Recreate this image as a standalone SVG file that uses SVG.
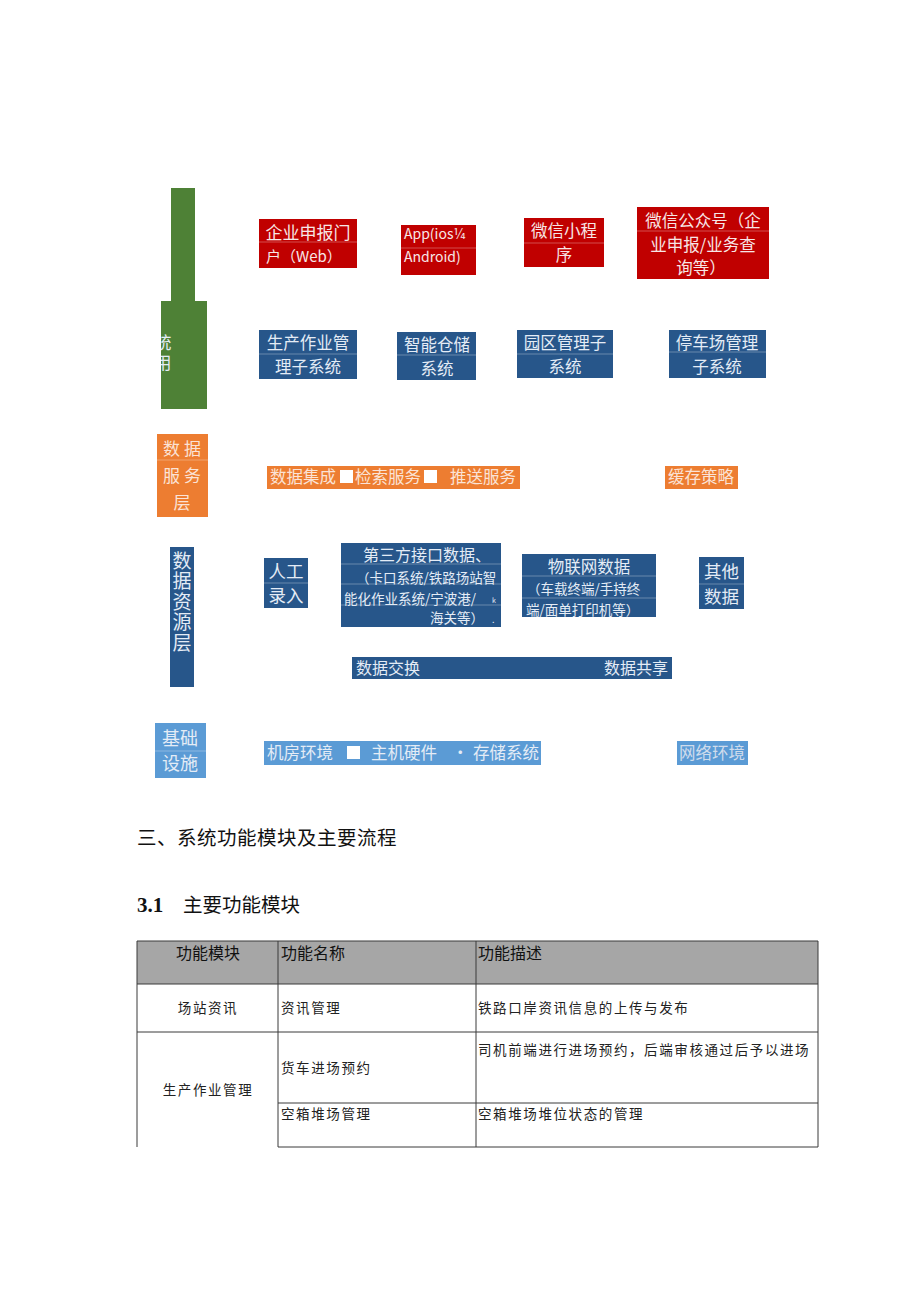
<svg xmlns="http://www.w3.org/2000/svg" width="920" height="1301" viewBox="0 0 920 1301">
<style>
.cjk{font-family:"Noto Sans CJK SC","Noto Sans",sans-serif}
.red{fill:#c00000}
.blue{fill:#27568a}
.org{fill:#ed7d31}
.lb{fill:#5b9bd5}
.grn{fill:#4e8136}
.tr{fill:#f7e6e6}
.tb{fill:#e4ecf6}
.to{fill:#fbe3d6}
.sep{stroke:#ffffff;stroke-opacity:0.3;stroke-width:1}
.c{text-anchor:middle}
.e{text-anchor:end}
.tl{stroke:#3a3a3a;stroke-width:1;fill:none}
.tt{font-family:"Noto Sans CJK SC",sans-serif;font-size:13.5px;fill:#222;letter-spacing:1.6px}
.th{font-family:"Noto Sans CJK SC",sans-serif;font-size:16px;fill:#111}
</style>
<defs>
<clipPath id="gclip"><rect x="161" y="301" width="46" height="108"/></clipPath>
</defs>
<rect width="920" height="1301" fill="#ffffff"/>

<g id="layer-app" class="cjk">
<rect class="grn" x="171" y="188" width="24" height="113"/>
<rect class="grn" x="161" y="301" width="46" height="108"/>
<g clip-path="url(#gclip)">
<text class="tb" x="163" y="334" font-size="17" style="writing-mode:vertical-rl" letter-spacing="3">统用</text>
</g>
</g>

<g id="node-portal" class="cjk">
<rect class="red" x="259" y="219" width="98" height="49"/>
<line class="sep" x1="259" y1="242" x2="357" y2="242"/>
<text class="tr c" x="308" y="239" font-size="17">企业申报门</text>
<text class="tr c" x="304" y="262" font-size="15">户（Web）</text>
</g>

<g id="node-app" class="cjk">
<rect class="red" x="401" y="225" width="75" height="50"/>
<line class="sep" x1="401" y1="248" x2="476" y2="248"/>
<text class="tr" x="404" y="239" font-size="14">App(ios¼</text>
<text class="tr" x="404" y="262" font-size="14">Android)</text>
</g>

<g id="node-miniprogram" class="cjk">
<rect class="red" x="524" y="218" width="80" height="49"/>
<line class="sep" x1="524" y1="243" x2="604" y2="243"/>
<text class="tr c" x="564" y="237" font-size="16.5">微信小程</text>
<text class="tr c" x="564" y="261" font-size="16.5">序</text>
</g>

<g id="node-wechat" class="cjk">
<rect class="red" x="637" y="207" width="132" height="72"/>
<line class="sep" x1="637" y1="231" x2="769" y2="231"/>
<text class="tr c" x="703" y="227" font-size="16.5">微信公众号（企</text>
<text class="tr c" x="703" y="251" font-size="16.5">业申报/业务查</text>
<text class="tr c" x="701" y="274" font-size="16.5">询等）</text>
</g>

<g id="node-production" class="cjk">
<rect class="blue" x="259" y="330" width="98" height="49"/>
<line class="sep" x1="259" y1="354" x2="357" y2="354"/>
<text class="tb c" x="308" y="349" font-size="16.5">生产作业管</text>
<text class="tb c" x="308" y="373" font-size="16.5">理子系统</text>
</g>

<g id="node-warehouse" class="cjk">
<rect class="blue" x="397" y="332" width="79" height="48"/>
<line class="sep" x1="397" y1="355" x2="476" y2="355"/>
<text class="tb c" x="437" y="351" font-size="16.5">智能仓储</text>
<text class="tb c" x="437" y="375" font-size="16.5">系统</text>
</g>

<g id="node-park" class="cjk">
<rect class="blue" x="517" y="330" width="96" height="48"/>
<line class="sep" x1="517" y1="354" x2="613" y2="354"/>
<text class="tb c" x="565" y="349" font-size="16.5">园区管理子</text>
<text class="tb c" x="565" y="373" font-size="16.5">系统</text>
</g>

<g id="node-parking" class="cjk">
<rect class="blue" x="669" y="330" width="97" height="48"/>
<line class="sep" x1="669" y1="352" x2="766" y2="352"/>
<text class="tb c" x="717" y="349" font-size="16.5">停车场管理</text>
<text class="tb c" x="717" y="373" font-size="16.5">子系统</text>
</g>

<g id="layer-dataservice" class="cjk">
<rect class="org" x="157" y="434" width="51" height="83"/>
<line class="sep" x1="157" y1="460" x2="208" y2="460"/>
<text class="to c" x="184" y="455" font-size="17" letter-spacing="4">数据</text>
<text class="to c" x="184" y="482" font-size="17" letter-spacing="4">服务</text>
<text class="to c" x="182" y="509" font-size="17">层</text>
</g>

<g id="node-dataservice-bar" class="cjk">
<rect class="org" x="267" y="466" width="253" height="23"/>
<text class="to" x="270" y="483" font-size="16.5">数据集成</text>
<rect x="340" y="470" width="13" height="13" fill="#ffffff"/>
<text class="to" x="355" y="483" font-size="16.5">检索服务</text>
<rect x="424" y="470" width="13" height="13" fill="#ffffff"/>
<text class="to" x="450" y="483" font-size="16.5">推送服务</text>
</g>

<g id="node-cache" class="cjk">
<rect class="org" x="665" y="466" width="73" height="23"/>
<text class="to" x="668" y="483" font-size="16.5">缓存策略</text>
</g>

<g id="layer-dataresource" class="cjk">
<rect class="blue" x="170" y="547" width="24" height="140"/>
<text class="tb" x="182" y="551" font-size="19" style="writing-mode:vertical-rl" letter-spacing="1.5">数据资源层</text>
</g>

<g id="node-manual" class="cjk">
<rect class="blue" x="264" y="558" width="44" height="50"/>
<line class="sep" x1="264" y1="583" x2="308" y2="583"/>
<text class="tb c" x="286" y="578" font-size="17.5">人工</text>
<text class="tb c" x="286" y="602" font-size="17.5">录入</text>
</g>

<g id="node-thirdparty" class="cjk">
<rect class="blue" x="341" y="543" width="160" height="84"/>
<line class="sep" x1="341" y1="564" x2="501" y2="564"/>
<line class="sep" x1="341" y1="584" x2="501" y2="584"/>
<line class="sep" x1="341" y1="605" x2="501" y2="605"/>
<text class="tb" x="363" y="561" font-size="16">第三方接口数据、</text>
<text class="tb" x="356" y="583" font-size="13.5">（卡口系统/铁路场站智</text>
<text class="tb" x="344" y="604" font-size="13.5">能化作业系统/宁波港/</text>
<text class="tb" x="492" y="603" font-size="7">k</text>
<text class="tb" x="430" y="623" font-size="13.5">海关等）</text>
<text class="tb" x="492" y="623" font-size="9">.</text>
</g>

<g id="node-iot" class="cjk">
<rect class="blue" x="522" y="554" width="134" height="63"/>
<line class="sep" x1="522" y1="576" x2="656" y2="576"/>
<line class="sep" x1="522" y1="598" x2="656" y2="598"/>
<text class="tb c" x="589" y="573" font-size="16.5">物联网数据</text>
<text class="tb" x="527" y="594" font-size="13.5">（车载终端/手持终</text>
<text class="tb" x="526" y="615" font-size="13.5">端/面单打印机等）</text>
</g>

<g id="node-other" class="cjk">
<rect class="blue" x="699" y="557" width="45" height="52"/>
<line class="sep" x1="699" y1="584" x2="744" y2="584"/>
<text class="tb c" x="721.5" y="578" font-size="17.5">其他</text>
<text class="tb c" x="721.5" y="603" font-size="17.5">数据</text>
</g>

<g id="node-exchange" class="cjk">
<rect class="blue" x="352" y="657" width="320" height="22"/>
<text class="tb" x="356" y="674" font-size="16">数据交换</text>
<text class="tb e" x="668" y="674" font-size="16">数据共享</text>
</g>

<g id="layer-infra" class="cjk">
<rect class="lb" x="155" y="723" width="51" height="55"/>
<line class="sep" x1="155" y1="751" x2="206" y2="751"/>
<text class="tb c" x="180" y="745" font-size="18">基础</text>
<text class="tb c" x="180" y="770" font-size="18">设施</text>
</g>

<g id="node-infra-bar" class="cjk">
<rect class="lb" x="264" y="741" width="277" height="24"/>
<text class="tb" x="267" y="759" font-size="16.5">机房环境</text>
<rect x="347" y="746" width="13" height="13" fill="#ffffff"/>
<text class="tb" x="371" y="759" font-size="16.5">主机硬件</text>
<text class="tb" x="452" y="759" font-size="16.5">·</text>
<text class="tb" x="473" y="759" font-size="16.5">存储系统</text>
</g>

<g id="node-network" class="cjk">
<rect class="lb" x="677" y="741" width="71" height="24"/>
<text x="679" y="759" font-size="16.5" fill="#cfdcec">网络环境</text>
</g>

<g id="connectors"/>

<g id="headings">
<text class="cjk" x="137" y="845" font-size="19.5" fill="#111" letter-spacing="0.5">三、系统功能模块及主要流程</text>
<text x="137" y="912" font-family="Liberation Serif,serif" font-weight="bold" font-size="21" fill="#111">3.1</text>
<text class="cjk" x="183" y="912" font-size="19.5" fill="#111">主要功能模块</text>
</g>

<g id="table">
<rect x="137" y="941" width="681" height="43" fill="#a6a6a6"/>
<line class="tl" x1="137" y1="941" x2="818" y2="941"/>
<line class="tl" x1="137" y1="984" x2="818" y2="984"/>
<line class="tl" x1="137" y1="1032" x2="818" y2="1032"/>
<line class="tl" x1="278" y1="1103" x2="818" y2="1103"/>
<line class="tl" x1="278" y1="1147" x2="818" y2="1147"/>
<line class="tl" x1="137" y1="941" x2="137" y2="1147"/>
<line class="tl" x1="278" y1="941" x2="278" y2="1147"/>
<line class="tl" x1="476" y1="941" x2="476" y2="1147"/>
<line class="tl" x1="818" y1="941" x2="818" y2="1147"/>
<text class="th c" x="208" y="959">功能模块</text>
<text class="th" x="281" y="959">功能名称</text>
<text class="th" x="478" y="959">功能描述</text>
<text class="tt c" x="208" y="1013">场站资讯</text>
<text class="tt" x="281" y="1013">资讯管理</text>
<text class="tt" x="478" y="1013">铁路口岸资讯信息的上传与发布</text>
<text class="tt c" x="208" y="1095">生产作业管理</text>
<text class="tt" x="281" y="1073">货车进场预约</text>
<text class="tt" x="478" y="1055">司机前端进行进场预约，后端审核通过后予以进场</text>
<text class="tt" x="281" y="1119">空箱堆场管理</text>
<text class="tt" x="478" y="1119">空箱堆场堆位状态的管理</text>
</g>
</svg>
